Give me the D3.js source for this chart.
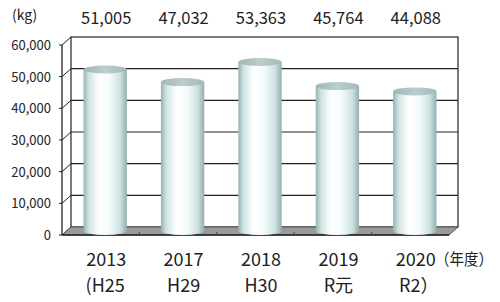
<!DOCTYPE html>
<html>
<head>
<meta charset="utf-8">
<script src="https://cdn.jsdelivr.net/npm/d3@7"></script>
<style>
  body { margin: 0; background: #fff; }
  text { font-family: "Noto Sans CJK JP", "Noto Sans", sans-serif; fill: #222; }
</style>
</head>
<body>
<svg id="chart" width="500" height="302"></svg>
<script>
var years = ["2013", "2017", "2018", "2019", "2020"];
var eras = ["(H25", "H29", "H30", "R元", "R2）"];
var amounts = [51005, 47032, 53363, 45764, 44088];
var yTicks = [0, 10000, 20000, 30000, 40000, 50000, 60000];

var depth = {x: 9, y: 8};   // 3d offset of back wall
var svg = d3.select("#chart");

var x = d3.scaleBand()
  .domain(years)
  .range([62, 449]);

// back wall scale
var y = d3.scaleLinear()
  .domain([0, 60000])
  .range([227, 37]);

var fmt = d3.format(",");

// back wall frame
svg.append("rect")
  .attr("x", x.range()[0] + depth.x)
  .attr("y", y(60000))
  .attr("width", x.range()[1] - x.range()[0])
  .attr("height", y(0) - y(60000))
  .attr("fill", "#fff")
  .attr("stroke", "#222")
  .attr("stroke-width", 1.2);

// gridlines
svg.selectAll(".grid")
  .data(yTicks.slice(1, -1))
  .enter().append("line")
  .attr("class", "grid")
  .attr("x1", x.range()[0] + depth.x)
  .attr("x2", x.range()[1] + depth.x)
  .attr("y1", function(d) { return y(d); })
  .attr("y2", function(d) { return y(d); })
  .attr("stroke", "#222")
  .attr("stroke-width", 1.2);

// left side wall: slanted ticks
svg.selectAll(".slant")
  .data(yTicks)
  .enter().append("path")
  .attr("class", "slant")
  .attr("d", function(d) {
    var x0 = x.range()[0];
    return "M" + (x0 - 3) + "," + (y(d) + depth.y) +
      "L" + x0 + "," + (y(d) + depth.y) +
      "L" + (x0 + depth.x) + "," + y(d);
  })
  .attr("fill", "none")
  .attr("stroke", "#222")
  .attr("stroke-width", 1);

svg.append("line")
  .attr("x1", x.range()[0]).attr("x2", x.range()[0])
  .attr("y1", y(60000) + depth.y).attr("y2", y(0) + depth.y)
  .attr("stroke", "#222").attr("stroke-width", 1.3);

// floor
var x0 = x.range()[0], x1 = x.range()[1];
svg.append("path")
  .attr("d", "M" + x0 + "," + (y(0) + depth.y) +
    "L" + (x0 + depth.x) + "," + y(0) +
    "L" + (x1 + depth.x) + "," + y(0) +
    "L" + x1 + "," + (y(0) + depth.y) + "Z")
  .attr("fill", "#9a9a9a")
  .attr("stroke", "#555")
  .attr("stroke-width", 1);

svg.append("line")
  .attr("x1", x0).attr("x2", x1)
  .attr("y1", y(0) + depth.y).attr("y2", y(0) + depth.y)
  .attr("stroke", "#222").attr("stroke-width", 1.3);

// category ticks on the front edge
svg.selectAll(".xtick")
  .data(years.slice(1))
  .enter().append("line")
  .attr("class", "xtick")
  .attr("x1", function(d) { return x(d); })
  .attr("x2", function(d) { return x(d); })
  .attr("y1", y(0) + depth.y - 3)
  .attr("y2", y(0) + depth.y)
  .attr("stroke", "#444");

// cylinder gradients
var defs = svg.append("defs");
var bodyGrad = defs.append("linearGradient").attr("id", "cylBody");
[[0, "#97b1b1"], [0.12, "#cfe2e2"], [0.35, "#ffffff"], [0.6, "#f3fbfb"], [0.85, "#cde0e0"], [1, "#93adad"]]
  .forEach(function(s) {
    bodyGrad.append("stop").attr("offset", s[0]).attr("stop-color", s[1]);
  });
var topGrad = defs.append("linearGradient").attr("id", "cylTop");
[[0, "#9fb6b6"], [0.5, "#bccdcd"], [1, "#a3b9b9"]]
  .forEach(function(s) {
    topGrad.append("stop").attr("offset", s[0]).attr("stop-color", s[1]);
  });

var barW = x.bandwidth() * 0.56;
var rx = barW / 2, ry = 4;
function cx(d) { return x(d) + x.bandwidth() / 2 + depth.x / 2; }
function midY(v) { return y(v) + depth.y / 2; }

var bars = svg.selectAll(".cyl")
  .data(years)
  .enter().append("g")
  .attr("class", "cyl");

bars.append("path")
  .attr("d", function(d, i) {
    var c = cx(d), t = midY(amounts[i]), b = midY(0);
    return "M" + (c - rx) + "," + t +
      "L" + (c - rx) + "," + b +
      "A" + rx + "," + ry + " 0 0 0 " + (c + rx) + "," + b +
      "L" + (c + rx) + "," + t + "Z";
  })
  .attr("fill", "url(#cylBody)");

bars.append("ellipse")
  .attr("cx", function(d) { return cx(d); })
  .attr("cy", function(d, i) { return midY(amounts[i]); })
  .attr("rx", rx)
  .attr("ry", ry)
  .attr("fill", "url(#cylTop)");

// value labels
svg.selectAll(".val")
  .data(years)
  .enter().append("text")
  .attr("class", "val")
  .attr("x", function(d) { return cx(d) + 1; })
  .attr("y", 24)
  .attr("text-anchor", "middle")
  .attr("font-size", "16.5px")
  .text(function(d, i) { return fmt(amounts[i]); });

// y labels
svg.selectAll(".ylab")
  .data(yTicks)
  .enter().append("text")
  .attr("class", "ylab")
  .attr("x", 51)
  .attr("y", function(d) { return y(d) + depth.y + 5; })
  .attr("text-anchor", "end")
  .attr("font-size", "13px")
  .text(function(d) { return fmt(d); });

svg.append("text")
  .attr("x", 12).attr("y", 20)
  .attr("font-size", "14px")
  .text("(kg)");

// x labels
svg.selectAll(".xlab")
  .data(years)
  .enter().append("text")
  .attr("class", "xlab")
  .attr("x", function(d) { return cx(d) + 1; })
  .attr("y", 266)
  .attr("text-anchor", "middle")
  .attr("font-size", "18px")
  .text(function(d) { return d; });

svg.selectAll(".era")
  .data(eras)
  .enter().append("text")
  .attr("class", "era")
  .attr("x", function(d, i) { return cx(years[i]) + (i == 0 ? 0 : i == 4 ? 4 : 1); })
  .attr("y", 292)
  .attr("text-anchor", "middle")
  .attr("font-size", "18px")
  .text(function(d) { return d; });

svg.append("text")
  .attr("x", 435).attr("y", 265)
  .attr("font-size", "16px")
  .attr("textLength", 58)
  .attr("lengthAdjust", "spacingAndGlyphs")
  .text("（年度）");
</script>
</body>
</html>
